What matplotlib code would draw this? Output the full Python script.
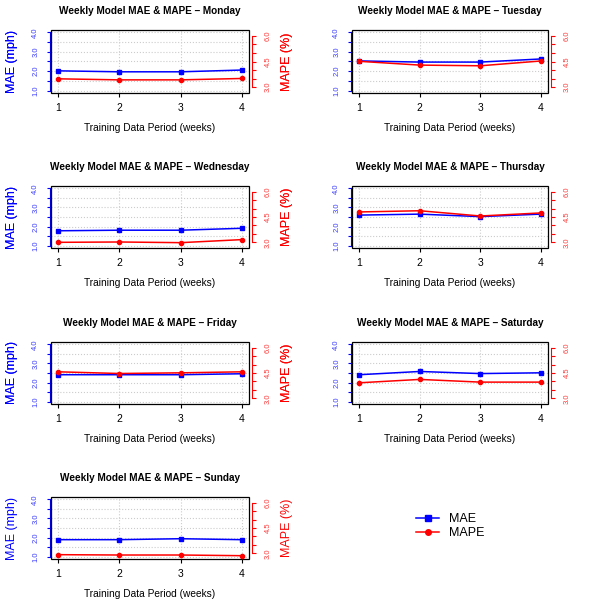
import matplotlib
matplotlib.use('Agg')
import matplotlib.pyplot as plt
from matplotlib.patches import Rectangle
from matplotlib.lines import Line2D

plt.rcParams['font.family'] = ['Liberation Sans', 'DejaVu Sans']

# data
days = ['Monday', 'Tuesday', 'Wednesday', 'Thursday', 'Friday', 'Saturday', 'Sunday']
weeks = [1, 2, 3, 4]

mae_mon = [2.02, 1.97, 1.97, 2.06]
mae_tue = [2.53, 2.47, 2.47, 2.63]
mae_wed = [1.78, 1.81, 1.81, 1.91]
mae_thu = [2.60, 2.65, 2.52, 2.65]
mae_fri = [2.41, 2.41, 2.41, 2.46]
mae_sat = [2.41, 2.58, 2.47, 2.51]
mae_sun = [1.89, 1.89, 1.94, 1.89]

mape_mon = [3.49, 3.43, 3.43, 3.51]
mape_tue = [4.51, 4.29, 4.25, 4.53]
mape_wed = [3.00, 3.02, 2.98, 3.16]
mape_thu = [4.80, 4.87, 4.56, 4.74]
mape_fri = [4.57, 4.47, 4.51, 4.57]
mape_sat = [3.92, 4.12, 3.96, 3.96]
mape_sun = [2.92, 2.90, 2.90, 2.86]

mae_ticks = [1.0, 1.5, 2.0, 2.5, 3.0, 3.5, 4.0]
mae_labels = ['1.0', '', '2.0', '', '3.0', '', '4.0']
mape_ticks = [3.0, 3.5, 4.0, 4.5, 5.0, 5.5, 6.0]
mape_labels = ['3.0', '', '', '4.5', '', '', '6.0']

mae_all = [mae_mon, mae_tue, mae_wed, mae_thu, mae_fri, mae_sat, mae_sun]
mape_all = [mape_mon, mape_tue, mape_wed, mape_thu, mape_fri, mape_sat, mape_sun]

W, H = 592, 606
fig = plt.figure(figsize=(W / 100, H / 100), dpi=100)

col_x = [(51, 249), (352, 548)]
row_y = [(30, 93), (186, 248), (342, 404), (497, 559)]
PX = 72 / 100  # points per pixel


def r_lim(lo, hi):
    ext = (hi - lo) * 0.04
    return lo - ext, hi + ext


for i, day in enumerate(days):
    r, c = i // 2, i % 2
    x0, x1 = col_x[c]
    y0, y1 = row_y[r]
    ax = fig.add_axes([x0 / W, 1 - y1 / H, (x1 - x0) / W, (y1 - y0) / H])
    ax2 = ax.twinx()

    ax.set_xlim(*r_lim(1, 4))
    ax.set_ylim(*r_lim(1, 4))
    ax2.set_ylim(*r_lim(2.8, 6.2))

    ax.grid(True, linestyle=':', color='#cccccc', linewidth=0.8)
    ax.set_axisbelow(True)

    ax.plot(weeks, mae_all[i], color='blue', marker='s', markersize=3, linewidth=1.1)
    ax2.plot(weeks, mape_all[i], color='red', marker='o', markersize=3, linewidth=1.1)

    # box
    ax.add_patch(Rectangle((0, 0), 1, 1, transform=ax.transAxes, fill=False,
                           edgecolor='black', linewidth=0.9, clip_on=False, zorder=5))
    for s in ['top', 'bottom', 'right']:
        ax.spines[s].set_visible(False)
    for s in ['top', 'bottom', 'left']:
        ax2.spines[s].set_visible(False)

    ax.spines['left'].set_bounds(1, 4)
    ax.spines['left'].set_color('blue')
    ax.spines['left'].set_position(('outward', 1 * PX))
    ax2.spines['right'].set_bounds(3, 6)
    ax2.spines['right'].set_color('red')
    ax2.spines['right'].set_position(('outward', 3 * PX))

    ax.set_xticks(weeks)
    ax.set_xticklabels([str(w) for w in weeks])
    ax.tick_params(axis='x', length=3.5 * PX, width=0.8, pad=5, labelsize=7.5)

    ax.set_yticks(mae_ticks)
    ax.set_yticklabels(mae_labels, rotation=90, va='center')
    ax.tick_params(axis='y', colors='blue', length=3 * PX, width=0.8, pad=5.5, labelsize=5.5)
    ax.tick_params(axis='y', labelcolor='#3a3aff')

    ax2.set_yticks(mape_ticks)
    ax2.set_yticklabels(mape_labels, rotation=90, va='center')
    ax2.tick_params(axis='y', colors='red', length=3.5 * PX, width=0.8, pad=6.5, labelsize=5.5)
    ax2.tick_params(axis='y', labelcolor='#ff3a3a')

    h = y1 - y0
    w = x1 - x0
    ax.text(0.5, (y1 - (y0 - 19)) / h, 'Weekly Model MAE & MAPE \u2013 ' + day,
            transform=ax.transAxes, ha='center', va='center', fontsize=7.2, fontweight='bold')
    ax.text(0.5, -(35 / h), 'Training Data Period (weeks)', transform=ax.transAxes,
            ha='center', va='center', fontsize=7.3)
    ax.text((12 - x0) / w, 0.5, 'MAE (mph)', transform=ax.transAxes, rotation=90,
            ha='center', va='center', fontsize=9, color='blue')
    ax.text((287 - x0) / w, 0.5, 'MAPE (%)', transform=ax.transAxes, rotation=90,
            ha='center', va='center', fontsize=9, color='red')

handles = [Line2D([], [], color='blue', marker='s', markersize=4, linewidth=1.1),
           Line2D([], [], color='red', marker='o', markersize=4, linewidth=1.1)]
fig.legend(handles, ['MAE', 'MAPE'], loc='upper left', bbox_to_anchor=(416 / W, 1 - 513 / H),
           frameon=False, fontsize=9, borderpad=0, borderaxespad=0, handlelength=1.85,
           handletextpad=0.8, labelspacing=0.15)

fig.savefig('out.png', dpi=100)
